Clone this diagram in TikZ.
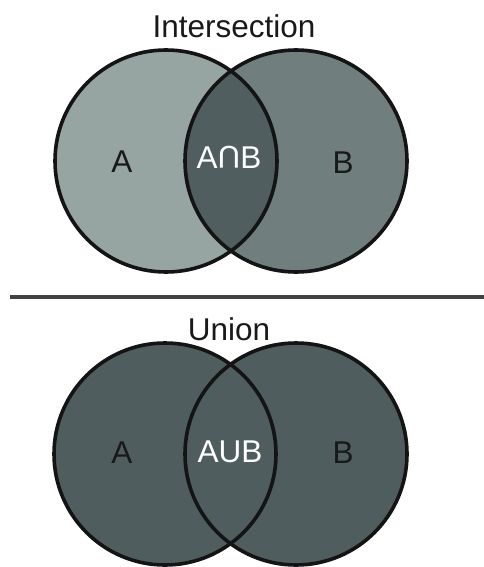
\documentclass[tikz,border=0pt]{standalone}
\usepackage{fontspec}
\setmainfont{Liberation Sans}
\newcommand{\capsign}{\rotatebox[origin=c]{180}{U}}
\begin{document}
\begin{tikzpicture}[x=1pt,y=-1pt,
  setlabel/.style={anchor=base,inner sep=0pt,font=\fontsize{31.5}{31.5}\selectfont,text=black!90},
  innerlabel/.style={setlabel,text=white},
  outline/.style={line width=3.6pt,draw=black!92},
  divider/.style={line width=4.5pt,draw=gray!25!black!85}]
\definecolor{lightset}{RGB}{150,165,162}
\definecolor{midset}{RGB}{112,126,126}
\definecolor{darkset}{RGB}{80,94,96}
\definecolor{unionset}{RGB}{79,93,94}
\useasboundingbox (0,0) rectangle (484,567);

% ---- intersection diagram ----
\coordinate (ca) at (166,161);
\coordinate (cb) at (296,161);
\fill[lightset] (ca) circle (111);
\fill[midset] (cb) circle (111);
\begin{scope}
  \clip (ca) circle (111);
  \fill[darkset] (cb) circle (111);
\end{scope}
\draw[outline] (ca) circle (111);
\draw[outline] (cb) circle (111);
\node[setlabel] (t1) at (234,38) {Intersection};
\node[setlabel] (la) at (122,172) {A};
\node[innerlabel] (lab) at (229,168) {A\capsign B};
\node[setlabel] (lb) at (343,173) {B};

% ---- divider ----
\coordinate (dl) at (10,297);
\coordinate (dr) at (484,297);
\draw[divider] (dl) -- (dr);

% ---- union diagram ----
\coordinate (ua) at (165,454);
\coordinate (ub) at (296,454);
\fill[unionset] (ua) circle (111);
\fill[unionset] (ub) circle (111);
\draw[outline] (ua) circle (111);
\draw[outline] (ub) circle (111);
\node[setlabel] (t2) at (229,340) {Union};
\node[setlabel] (ula) at (122,463) {A};
\node[innerlabel] (ulab) at (230,462) {AUB};
\node[setlabel] (ulb) at (343,463) {B};
\end{tikzpicture}
\end{document}
